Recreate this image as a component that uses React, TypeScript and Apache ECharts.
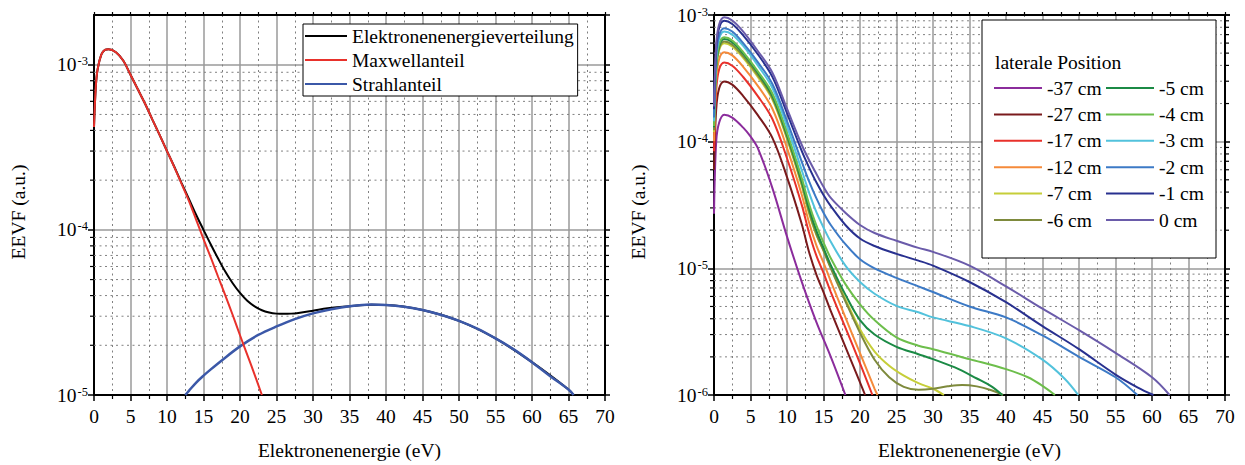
import React, { useEffect, useRef } from "react";
import * as echarts from "echarts";

const FONT = "'Liberation Serif', 'Times New Roman', serif";
const FS = 19.5;

// ---------- Left plot data ----------
const totalEnergy = [0,0.25,0.5,1,1.5,2,3,4,5,6,7,8,9,10,11,12,13,14,15,16,17,18,19,20,21,22,23,24,25,26,27,28,30,32,35,38,40,45,50,55,60,65,65.7];
const totalEEVF = [4.2e-4,7.4e-4,9.4e-4,1.15e-3,1.23e-3,1.24e-3,1.19e-3,1.06e-3,8.7e-4,7.1e-4,5.8e-4,4.65e-4,3.75e-4,3.0e-4,2.41e-4,1.92e-4,1.54e-4,1.23e-4,1.0e-4,8.15e-5,6.7e-5,5.57e-5,4.75e-5,4.15e-5,3.72e-5,3.44e-5,3.26e-5,3.16e-5,3.11e-5,3.1e-5,3.11e-5,3.14e-5,3.24e-5,3.35e-5,3.45e-5,3.52e-5,3.51e-5,3.27e-5,2.81e-5,2.2e-5,1.58e-5,1.08e-5,1.0e-5];

const maxwellEnergy = [0,0.25,0.5,1,1.5,2,3,4,5,6,7,8,9,10,11,12,13,14,15,16,17,18,19,20,21,22,23];
const maxwellEEVF = [4.2e-4,7.4e-4,9.4e-4,1.15e-3,1.23e-3,1.24e-3,1.19e-3,1.06e-3,8.7e-4,7.1e-4,5.8e-4,4.65e-4,3.75e-4,3.0e-4,2.4e-4,1.9e-4,1.5e-4,1.15e-4,8.8e-5,6.8e-5,5.2e-5,4.0e-5,3.05e-5,2.3e-5,1.75e-5,1.33e-5,1.0e-5];

const beamEnergy = [12.5,13,14,15,16,17.5,20,22.5,25,27.5,30,32.5,35,38,40,42.5,45,47.5,50,52.5,55,57.5,60,62.5,65,65.7];
const beamEEVF = [1.0e-5,1.06e-5,1.19e-5,1.31e-5,1.43e-5,1.62e-5,1.97e-5,2.31e-5,2.6e-5,2.88e-5,3.12e-5,3.31e-5,3.45e-5,3.53e-5,3.51e-5,3.42e-5,3.27e-5,3.06e-5,2.81e-5,2.52e-5,2.2e-5,1.89e-5,1.58e-5,1.3e-5,1.08e-5,1.0e-5];

const leftNames = ["Elektronenenergieverteilung", "Maxwellanteil", "Strahlanteil"];

// ---------- Right plot data ----------
const e37 = [0,0.3,0.7,1.4,2.5,4,5,6,8,10,12,14,16,18];
const v37 = [2.7e-5,1.0e-4,1.41e-4,1.63e-4,1.55e-4,1.29e-4,1.1e-4,8.9e-5,4.3e-5,1.78e-5,7.9e-6,3.8e-6,2.0e-6,1.0e-6];
const e27 = [0,0.3,0.7,1.4,2.5,4,6,8,10,12,13,14,15,16,18,20,20.7];
const v27 = [6.0e-5,1.8e-4,2.63e-4,2.99e-4,2.82e-4,2.29e-4,1.62e-4,1.07e-4,5.25e-5,2.26e-5,1.36e-5,9.0e-6,6.5e-6,4.6e-6,2.4e-6,1.26e-6,1.0e-6];
const e17 = [0,0.3,0.7,1.4,2.5,4,6,8,10,12,13,14,15,16,18,20,21.7];
const v17 = [8.4e-5,2.54e-4,3.72e-4,4.22e-4,3.98e-4,3.24e-4,2.29e-4,1.51e-4,7.4e-5,3.2e-5,1.93e-5,1.27e-5,9.2e-6,6.5e-6,3.4e-6,1.78e-6,1.0e-6];
const e12 = [0,0.3,0.7,1.4,2.5,4,6,8,10,12,13,14,15,16,18,20,22,22.4];
const v12 = [1.01e-4,3.06e-4,4.48e-4,5.08e-4,4.8e-4,3.9e-4,2.76e-4,1.82e-4,8.9e-5,3.85e-5,2.32e-5,1.53e-5,1.11e-5,7.9e-6,4.1e-6,2.14e-6,1.12e-6,1.0e-6];
const e7 = [0,0.3,0.7,1.4,2.5,4,6,8,10,12,13,14,15,16,18,20,22,24,26,28,30,31.5];
const v7 = [1.19e-4,3.6e-4,5.27e-4,5.98e-4,5.65e-4,4.59e-4,3.25e-4,2.15e-4,1.05e-4,4.54e-5,2.74e-5,1.85e-5,1.38e-5,1.02e-5,5.7e-6,3.3e-6,2.2e-6,1.7e-6,1.42e-6,1.24e-6,1.12e-6,1.0e-6];
const e6 = [0,0.3,0.7,1.4,2.5,4,6,8,10,12,13,14,15,16,18,20,22,24,26,28,30,32,34,36,38,39.6];
const v6 = [1.23e-4,3.72e-4,5.43e-4,6.17e-4,5.82e-4,4.73e-4,3.35e-4,2.21e-4,1.08e-4,4.68e-5,2.82e-5,1.88e-5,1.38e-5,1.0e-5,5.5e-6,3.1e-6,1.9e-6,1.38e-6,1.16e-6,1.1e-6,1.12e-6,1.17e-6,1.2e-6,1.17e-6,1.09e-6,1.0e-6];
const e5 = [0,0.3,0.7,1.4,2.5,4,6,8,10,12,13,14,15,16,18,20,22,25,28,30,33,36,38,39.5];
const v5 = [1.3e-4,3.9e-4,5.7e-4,6.45e-4,6.1e-4,4.95e-4,3.5e-4,2.3e-4,1.13e-4,4.9e-5,3.0e-5,2.0e-5,1.45e-5,1.06e-5,6.2e-6,3.9e-6,3.0e-6,2.4e-6,2.1e-6,1.92e-6,1.65e-6,1.35e-6,1.17e-6,1.0e-6];
const e4 = [0,0.3,0.7,1.4,2.5,4,6,8,10,12,13,14,15,16,18,20,22,25,28,30,35,40,43,45,46.7];
const v4 = [1.33e-4,4.0e-4,5.9e-4,6.67e-4,6.3e-4,5.1e-4,3.6e-4,2.4e-4,1.18e-4,5.2e-5,3.25e-5,2.2e-5,1.6e-5,1.2e-5,7.5e-6,5.2e-6,3.9e-6,2.85e-6,2.45e-6,2.3e-6,1.92e-6,1.6e-6,1.38e-6,1.18e-6,1.0e-6];
const e3 = [0,0.3,0.7,1.4,2.5,4,6,8,10,12,13,14,15,16,18,20,22,25,28,30,35,40,45,48,49.9];
const v3 = [1.45e-4,4.4e-4,6.5e-4,7.4e-4,7.0e-4,5.7e-4,4.0e-4,2.65e-4,1.32e-4,6.0e-5,4.0e-5,2.8e-5,2.1e-5,1.62e-5,1.05e-5,7.8e-6,6.3e-6,5.05e-6,4.5e-6,4.1e-6,3.5e-6,2.8e-6,1.9e-6,1.35e-6,1.0e-6];
const e2 = [0,0.3,0.7,1.4,2.5,4,6,8,10,12,13,14,15,16,18,20,22,25,28,30,35,40,45,50,55,58];
const v2 = [1.55e-4,4.7e-4,6.9e-4,7.86e-4,7.4e-4,6.0e-4,4.25e-4,2.85e-4,1.45e-4,7.0e-5,4.9e-5,3.6e-5,2.75e-5,2.2e-5,1.55e-5,1.18e-5,1.0e-5,8.4e-6,7.2e-6,6.5e-6,5.0e-6,4.1e-6,2.95e-6,2.0e-6,1.38e-6,1.0e-6];
const e1 = [0,0.3,0.7,1.4,2.5,4,6,8,10,12,13,14,15,16,18,20,22,25,28,30,35,40,45,50,55,58,60.2];
const v1 = [1.8e-4,5.4e-4,7.9e-4,9.0e-4,8.5e-4,6.9e-4,4.9e-4,3.25e-4,1.68e-4,8.5e-5,6.3e-5,4.8e-5,3.8e-5,3.1e-5,2.2e-5,1.72e-5,1.5e-5,1.3e-5,1.15e-5,1.05e-5,7.8e-6,5.4e-6,3.5e-6,2.3e-6,1.45e-6,1.15e-6,1.0e-6];
const e0 = [0,0.3,0.7,1.4,2.5,4,6,8,10,12,13,14,15,16,18,20,22,25,28,30,35,40,45,50,55,60,62.4];
const v0 = [1.9e-4,5.8e-4,8.4e-4,9.6e-4,9.05e-4,7.4e-4,5.2e-4,3.5e-4,1.82e-4,9.5e-5,7.2e-5,5.6e-5,4.4e-5,3.6e-5,2.75e-5,2.2e-5,1.9e-5,1.65e-5,1.45e-5,1.35e-5,1.05e-5,7.2e-6,4.8e-6,3.25e-6,2.15e-6,1.38e-6,1.0e-6];

const rightNames = ["-37 cm","-27 cm","-17 cm","-12 cm","-7 cm","-6 cm","-5 cm","-4 cm","-3 cm","-2 cm","-1 cm","0 cm"];
const rightEnergies = [e37,e27,e17,e12,e7,e6,e5,e4,e3,e2,e1,e0];
const rightValues = [v37,v27,v17,v12,v7,v6,v5,v4,v3,v2,v1,v0];
const rightColors = ["#8B2C9C","#7A1A1C","#E8312B","#F58A3A","#C6CE38","#7E8A3C","#1B8A45","#6DBE4B","#52C2DC","#3C7AC6","#28308F","#6A5BAA"];

const xTicks = { min: 0, max: 70, interval: 5 };
const leftY = { min: 1e-5, max: 2e-3 };
const rightY = { min: 1e-6, max: 1e-3 };

function zip(e: number[], v: number[]) {
  return e.map((x, i) => [x, v[i]]);
}

function minorValues(lo: number, hi: number) {
  const out: number[] = [];
  for (let k = lo; k < hi; k++) {
    for (let m = 2; m <= 9; m++) out.push(m * Math.pow(10, k));
  }
  return out;
}

function powLabel(v: number) {
  const l = Math.log10(v);
  const e = Math.round(l);
  if (Math.abs(l - e) > 1e-6) return "";
  return `{b|10}{s|${e}}`;
}

const nameStyle = { fontSize: FS, fontFamily: FONT, color: "#000" };

function bottomX(gridIndex: number) {
  return {
    type: "value", gridIndex, position: "bottom", ...xTicks,
    axisLine: { show: true, onZero: false, lineStyle: { color: "#000", width: 2 } },
    axisTick: { show: true, length: 6, lineStyle: { color: "#000", width: 1.5 } },
    minorTick: { show: true, splitNumber: 2, length: 4, lineStyle: { color: "#000", width: 1.2 } },
    axisLabel: { show: true, fontSize: FS, fontFamily: FONT, fontWeight: "normal", color: "#000", margin: 11 },
    splitLine: { show: true, lineStyle: { color: "#9a9a9a", width: 1.5 } },
    minorSplitLine: { show: true, lineStyle: { color: "#808080", width: 1, type: [2, 3.5] } },
    name: "Elektronenenergie (eV)", nameLocation: "middle", nameGap: 45,
    nameTextStyle: nameStyle,
  };
}
function topX(gridIndex: number) {
  return {
    type: "value", gridIndex, position: "top", ...xTicks,
    axisLine: { show: true, onZero: false, lineStyle: { color: "#000", width: 2 } },
    axisTick: { show: true, length: 3, lineStyle: { color: "#000", width: 1.2 } },
    minorTick: { show: true, splitNumber: 2, length: 3, lineStyle: { color: "#000", width: 1.2 } },
    axisLabel: { show: false }, splitLine: { show: false },
  };
}
function leftYAxis(gridIndex: number, range: any, showMax: boolean) {
  return {
    type: "log", logBase: 10, gridIndex, position: "left", ...range,
    axisLine: { show: true, onZero: false, lineStyle: { color: "#000", width: 2 } },
    axisTick: { show: true, length: 6, lineStyle: { color: "#000", width: 1.5 } },
    axisLabel: {
      show: true, formatter: powLabel, margin: 6, showMaxLabel: showMax,
      fontSize: FS, fontFamily: FONT, color: "#000",
      rich: {
        b: { fontSize: FS, fontFamily: FONT, color: "#000" },
        s: { fontSize: 12.5, fontFamily: FONT, color: "#000", verticalAlign: "top", padding: [0, 0, 6, 1] },
      },
    },
    splitLine: { show: true, lineStyle: { color: "#9a9a9a", width: 1.5 } },
    name: "EEVF (a.u.)", nameLocation: "middle", nameGap: 66, nameRotate: 90,
    nameTextStyle: { ...nameStyle, padding: [0, 14, 0, 0] },
  };
}
function rightYAxis(gridIndex: number, range: any) {
  return {
    type: "log", logBase: 10, gridIndex, position: "right", ...range,
    axisLine: { show: true, onZero: false, lineStyle: { color: "#000", width: 2 } },
    axisTick: { show: true, length: 5, lineStyle: { color: "#000", width: 1.5 } },
    axisLabel: { show: false }, splitLine: { show: false },
  };
}
function minorSeries(xAxisIndex: number, yAxisIndex: number, values: number[]) {
  return {
    type: "custom", xAxisIndex, yAxisIndex, z: 1, silent: true, clip: false,
    data: values.map((v) => [xTicks.min, v]),
    renderItem: (params: any, api: any) => {
      const v = api.value(1);
      const a = api.coord([xTicks.min, v]);
      const b = api.coord([xTicks.max, v]);
      return {
        type: "group",
        children: [
          { type: "line", shape: { x1: a[0], y1: a[1], x2: b[0], y2: b[1] }, style: { stroke: "#808080", lineWidth: 1, lineDash: [2, 3.5] } },
          { type: "line", shape: { x1: a[0] - 4, y1: a[1], x2: a[0], y2: a[1] }, style: { stroke: "#000", lineWidth: 1.2 } },
          { type: "line", shape: { x1: b[0], y1: b[1], x2: b[0] + 4, y2: b[1] }, style: { stroke: "#000", lineWidth: 1.2 } },
        ],
      };
    },
  };
}
function curve(name: string, data: number[][], color: string, xi: number, yi: number, width = 2) {
  return {
    type: "line", name, data, xAxisIndex: xi, yAxisIndex: yi, symbol: "none", showSymbol: false,
    smooth: 0.35, z: 3,
    lineStyle: { color, width }, itemStyle: { color },
  };
}

const legendText = { fontSize: FS, fontFamily: FONT, color: "#000", lineHeight: 20 };

export default function App() {
  const ref = useRef<HTMLDivElement>(null);
  useEffect(() => {
    document.body.style.margin = "0";
    const chart = echarts.init(ref.current!, null, { renderer: "svg" });
    const series: any[] = [
      minorSeries(0, 0, minorValues(-5, -3)),
      minorSeries(2, 2, minorValues(-6, -3)),
      curve(leftNames[0], zip(totalEnergy, totalEEVF), "#000000", 0, 0),
      curve(leftNames[2], zip(beamEnergy, beamEEVF), "#3B58A8", 0, 0, 2.5),
      curve(leftNames[1], zip(maxwellEnergy, maxwellEEVF), "#E8312B", 0, 0),
    ];
    rightNames.forEach((n, i) => {
      series.push(curve(n, zip(rightEnergies[i], rightValues[i]), rightColors[i], 2, 2));
    });
    chart.setOption({
      animation: false,
      backgroundColor: "#fff",
      textStyle: { fontFamily: FONT, fontSize: FS, color: "#000" },
      grid: [
        { left: 94, top: 15, width: 511, height: 381 },
        { left: 714, top: 15, width: 511, height: 381 },
      ],
      xAxis: [bottomX(0), topX(0), bottomX(1), topX(1)],
      yAxis: [leftYAxis(0, leftY, false), rightYAxis(0, leftY), leftYAxis(1, rightY, true), rightYAxis(1, rightY)],
      legend: [
        {
          data: leftNames, orient: "vertical", left: 303, top: 24, icon: "rect", itemWidth: 42, itemHeight: 2,
          itemGap: 4, itemTextGap: 5, padding: [2, 4, 2, 2], borderColor: "#000", borderWidth: 1,
          backgroundColor: "#fff", textStyle: legendText, selectedMode: false, z: 6,
        },
        {
          data: rightNames.slice(0, 6), orient: "vertical", left: 994, top: 78, icon: "rect", itemWidth: 48, itemHeight: 2,
          itemGap: 6.4, itemTextGap: 5, padding: 0, textStyle: legendText, selectedMode: false, z: 6,
        },
        {
          data: rightNames.slice(6), orient: "vertical", left: 1106, top: 78, icon: "rect", itemWidth: 48, itemHeight: 2,
          itemGap: 6.4, itemTextGap: 5, padding: 0, textStyle: legendText, selectedMode: false, z: 6,
        },
      ],
      graphic: [
        { type: "rect", z: 4, shape: { x: 982, y: 20, width: 234, height: 238 }, style: { fill: "#fff", stroke: "#000", lineWidth: 1 } },
        { type: "text", z: 5, x: 995, y: 62, style: { text: "laterale Position", fontSize: FS, fontFamily: FONT, fill: "#000", verticalAlign: "middle" } },
      ],
      series,
    });
    return () => chart.dispose();
  }, []);
  return <div ref={ref} style={{ width: 1245, height: 465 }} />;
}
